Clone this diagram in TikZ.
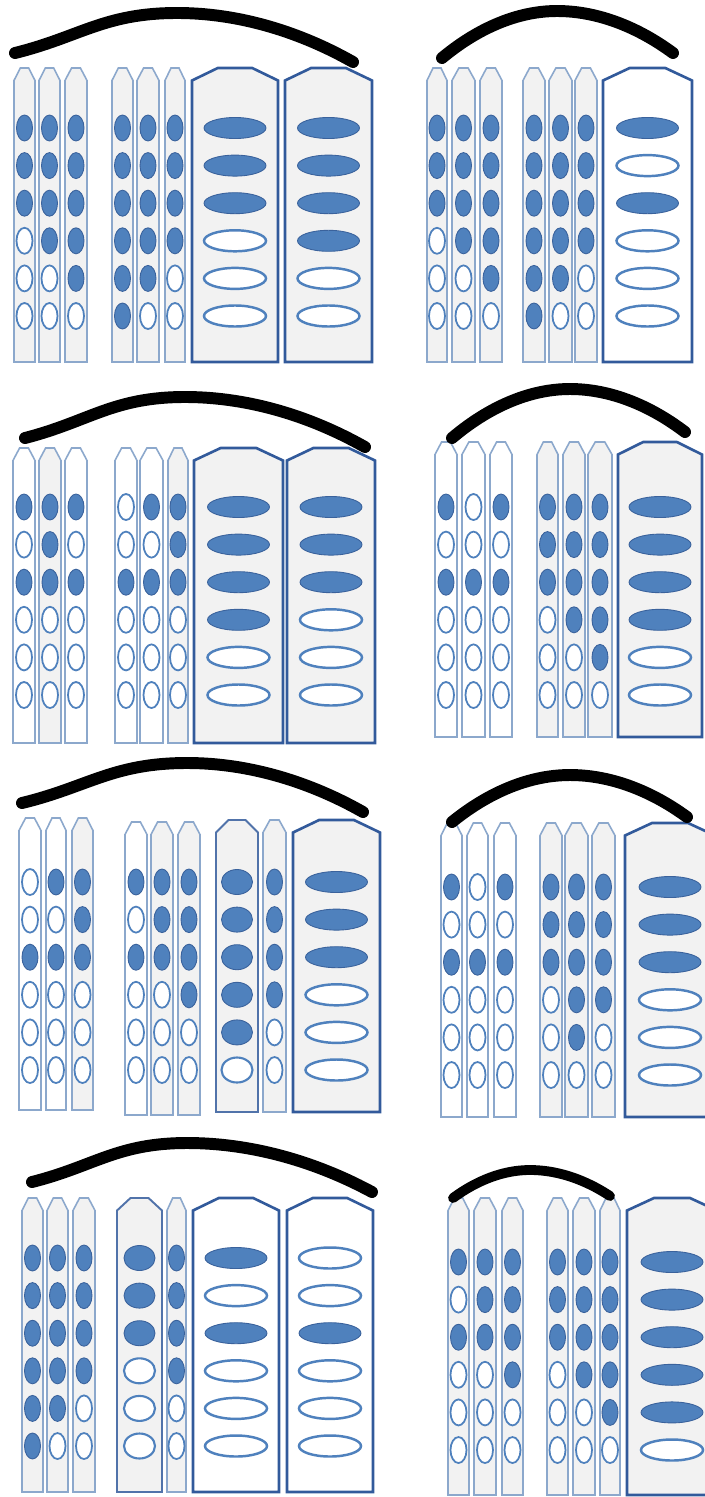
\documentclass[tikz,border=0pt]{standalone}
\usepackage{tikz}
\usetikzlibrary{calc}
\definecolor{dotblue}{RGB}{79,129,189}
\definecolor{dotedge}{RGB}{58,98,156}
\definecolor{tubegray}{RGB}{242,242,242}
\definecolor{thinedge}{RGB}{140,168,204}
\definecolor{thickedge}{RGB}{50,90,155}

\def\rxn{8}\def\ryn{13}
\def\rxm{15.5}\def\rym{12.5}
\def\rxw{31}\def\ryw{10.5}

% #1 kind (n/m/w), #2 fill, #3-#4 left/right, #5 top, #6 bottom, #7 first row, #8 dots
\newcommand{\tube}[8]{%
  \pgfmathsetmacro{\tubecut}{0.3*(#4-#3)}%
  \pgfmathsetmacro{\tubemid}{0.5*(#3+#4)}%
  \edef\tuberx{\csname rx#1\endcsname}%
  \edef\tubery{\csname ry#1\endcsname}%
  \filldraw[tube#1,fill=#2] (#3,#6) -- (#3,#5+12.5) -- (#3+\tubecut,#5)
    -- (#4-\tubecut,#5) -- (#4,#5+12.5) -- (#4,#6) -- cycle;
  \foreach \v [count=\k from 0] in {#8} {
    \ifnum\v=1\relax
      \filldraw[bluedot] (\tubemid,#7+37.6*\k) ellipse ({\tuberx} and {\tubery});
    \else
      \filldraw[whitedot,white#1] (\tubemid,#7+37.6*\k) ellipse ({\tuberx} and {\tubery});
    \fi
  }%
}

\begin{document}
\begin{tikzpicture}[x=0.02cm,y=-0.02cm,
    tuben/.style={draw=thinedge,line width=0.9pt},
    tubem/.style={draw=thickedge!85!white,line width=1.1pt},
    tubew/.style={draw=thickedge,line width=1.5pt},
    bluedot/.style={fill=dotblue,draw=dotedge,line width=0.5pt},
    whitedot/.style={fill=white,draw=dotblue},
    whiten/.style={line width=1pt},
    whitem/.style={line width=1.2pt},
    whitew/.style={line width=1.4pt},
    arch/.style={line width=6.8pt,line cap=round}]
  \useasboundingbox (0,0) rectangle (705,1497);
  \clip (0,0) rectangle (705,1497);

  % top left
  \tube{n}{tubegray}{14}{35}{68}{362}{128}{1,1,1,0,0,0}
  \tube{n}{tubegray}{39}{60}{68}{362}{128}{1,1,1,1,0,0}
  \tube{n}{tubegray}{65}{87}{68}{362}{128}{1,1,1,1,1,0}
  \tube{n}{tubegray}{112}{133}{68}{362}{128}{1,1,1,1,1,1}
  \tube{n}{tubegray}{137}{159}{68}{362}{128}{1,1,1,1,1,0}
  \tube{n}{tubegray}{165}{185}{68}{362}{128}{1,1,1,1,0,0}
  \tube{w}{tubegray}{192}{278}{68}{362}{128}{1,1,1,0,0,0}
  \tube{w}{tubegray}{285}{372}{68}{362}{128}{1,1,1,1,0,0}

  % top right
  \tube{n}{tubegray}{427}{447}{68}{362}{128}{1,1,1,0,0,0}
  \tube{n}{tubegray}{452}{475}{68}{362}{128}{1,1,1,1,0,0}
  \tube{n}{tubegray}{480}{502}{68}{362}{128}{1,1,1,1,1,0}
  \tube{n}{tubegray}{523}{545}{68}{362}{128}{1,1,1,1,1,1}
  \tube{n}{tubegray}{549}{572}{68}{362}{128}{1,1,1,1,1,0}
  \tube{n}{tubegray}{575}{597}{68}{362}{128}{1,1,1,1,0,0}
  \tube{w}{white}{603}{692}{68}{362}{128}{1,0,1,0,0,0}

  % second row
  \tube{n}{white}{13}{35}{448}{743}{507}{1,0,1,0,0,0}
  \tube{n}{tubegray}{39}{61}{448}{743}{507}{1,1,1,0,0,0}
  \tube{n}{white}{65}{87}{448}{743}{507}{1,0,1,0,0,0}
  \tube{n}{white}{115}{137}{448}{743}{507}{0,0,1,0,0,0}
  \tube{n}{white}{140}{163}{448}{743}{507}{1,0,1,0,0,0}
  \tube{n}{tubegray}{168}{188}{448}{743}{507}{1,1,1,0,0,0}
  \tube{w}{tubegray}{194}{283}{448}{743}{507}{1,1,1,1,0,0}
  \tube{w}{tubegray}{287}{375}{448}{743}{507}{1,1,1,0,0,0}

  \tube{n}{white}{435}{457}{442}{737}{507}{1,0,1,0,0,0}
  \tube{n}{white}{462}{485}{442}{737}{507}{0,0,1,0,0,0}
  \tube{n}{white}{490}{512}{442}{737}{507}{1,0,1,0,0,0}
  \tube{n}{tubegray}{537}{558}{442}{737}{507}{1,1,1,0,0,0}
  \tube{n}{tubegray}{563}{585}{442}{737}{507}{1,1,1,1,0,0}
  \tube{n}{tubegray}{588}{612}{442}{737}{507}{1,1,1,1,1,0}
  \tube{w}{tubegray}{618}{702}{442}{737}{507}{1,1,1,1,0,0}

  % third row
  \tube{n}{white}{19}{41}{818}{1110}{882}{0,0,1,0,0,0}
  \tube{n}{white}{46}{66}{818}{1110}{882}{1,0,1,0,0,0}
  \tube{n}{tubegray}{72}{93}{818}{1110}{882}{1,1,1,0,0,0}
  \tube{n}{white}{125}{147}{822}{1115}{882}{1,0,1,0,0,0}
  \tube{n}{tubegray}{151}{173}{822}{1115}{882}{1,1,1,0,0,0}
  \tube{n}{tubegray}{178}{200}{822}{1115}{882}{1,1,1,1,0,0}
  \tube{m}{tubegray}{216}{258}{820}{1112}{882}{1,1,1,1,1,0}
  \tube{n}{tubegray}{263}{286}{820}{1112}{882}{1,1,1,1,0,0}
  \tube{w}{tubegray}{293}{380}{820}{1112}{882}{1,1,1,0,0,0}

  \tube{n}{white}{441}{462}{823}{1117}{887}{1,0,1,0,0,0}
  \tube{n}{white}{467}{488}{823}{1117}{887}{0,0,1,0,0,0}
  \tube{n}{white}{494}{516}{823}{1117}{887}{1,0,1,0,0,0}
  \tube{n}{tubegray}{540}{562}{823}{1117}{887}{1,1,1,0,0,0}
  \tube{n}{tubegray}{565}{588}{823}{1117}{887}{1,1,1,1,1,0}
  \tube{n}{tubegray}{592}{615}{823}{1117}{887}{1,1,1,1,0,0}
  \tube{w}{tubegray}{625}{715}{823}{1117}{887}{1,1,1,0,0,0}

  % bottom row
  \tube{n}{tubegray}{22}{43}{1198}{1492}{1258}{1,1,1,1,1,1}
  \tube{n}{tubegray}{47}{68}{1198}{1492}{1258}{1,1,1,1,1,0}
  \tube{n}{tubegray}{73}{95}{1198}{1492}{1258}{1,1,1,1,0,0}
  \tube{m}{tubegray}{117}{162}{1198}{1492}{1258}{1,1,1,0,0,0}
  \tube{n}{tubegray}{167}{186}{1198}{1492}{1258}{1,1,1,1,0,0}
  \tube{w}{white}{193}{279}{1198}{1492}{1258}{1,0,1,0,0,0}
  \tube{w}{white}{287}{373}{1198}{1492}{1258}{0,0,1,0,0,0}

  \tube{n}{tubegray}{448}{469}{1198}{1495}{1262}{1,0,1,0,0,0}
  \tube{n}{tubegray}{474}{496}{1198}{1495}{1262}{1,1,1,0,0,0}
  \tube{n}{tubegray}{502}{523}{1198}{1495}{1262}{1,1,1,1,0,0}
  \tube{n}{tubegray}{547}{568}{1198}{1495}{1262}{1,1,1,0,0,0}
  \tube{n}{tubegray}{573}{595}{1198}{1495}{1262}{1,1,1,1,0,0}
  \tube{n}{tubegray}{600}{620}{1198}{1495}{1262}{1,1,1,1,1,0}
  \tube{w}{tubegray}{627}{717}{1198}{1495}{1262}{1,1,1,1,1,0}

  % arches
  \coordinate (a1) at (15,53);   \coordinate (t1) at (177,13);   \coordinate (b1) at (353,62);
  \coordinate (a3) at (25,438);  \coordinate (t3) at (185,397);  \coordinate (b3) at (365,447);
  \coordinate (a5) at (22,803);  \coordinate (t5) at (187,763);  \coordinate (b5) at (363,812);
  \coordinate (a7) at (32,1182); \coordinate (t7) at (187,1143); \coordinate (b7) at (372,1192);
  \foreach \i in {1,3,5,7}
    \draw[arch] (a\i) .. controls ($(a\i)!0.4!(t\i)$) and ($(t\i)!0.45!(t\i -| a\i)$) .. (t\i)
      parabola[bend at start] (b\i);
  \draw[arch] (442,58) parabola bend (557,11) (673,53);
  \draw[arch] (452,438) parabola bend (570,389) (685,432);
  \draw[arch] (452,822) parabola bend (570,775) (687,817);
  \draw[arch,line width=5.6pt] (453,1198) parabola bend (530,1170) (610,1196);
\end{tikzpicture}
\end{document}
